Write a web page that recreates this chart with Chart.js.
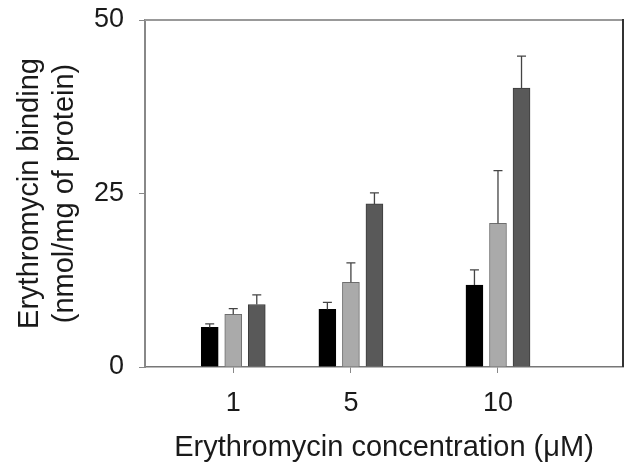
<!DOCTYPE html>
<html>
<head>
<meta charset="utf-8">
<script src="https://cdn.jsdelivr.net/npm/chart.js@4.4.1/dist/chart.umd.min.js"></script>
<style>
  body { margin: 0; background: #fff; }
  #chart { display: block; }
</style>
</head>
<body>
<canvas id="chart" width="633" height="470"></canvas>
<script>
// concentrations (uM) on the x axis
const concentrations = [1, 5, 10];
// three series
const blackValues = [5.7, 8.3, 11.8];
const blackErrors = [0.5, 1.0, 2.2];
const lightValues = [7.6, 12.2, 20.7];
const lightErrors = [0.8, 2.8, 7.6];
const darkValues = [9.0, 23.5, 40.2];
const darkErrors = [1.4, 1.6, 4.6];
const yTicks = [0, 25, 50];

const FONT = "'Liberation Sans', Arial, sans-serif";

function makeSeries(label, values, errors, offset, fill, border) {
  return {
    label: label,
    data: concentrations.map((c, i) => ({ x: c + offset, y: values[i], err: errors[i] })),
    backgroundColor: fill,
    borderColor: border,
    borderWidth: 1,
    borderSkipped: 'bottom',
    barThickness: 17,
    grouped: false
  };
}

// upward error bars, drawn through the y scale
const errorBars = {
  id: 'errorBars',
  afterDatasetsDraw(chart) {
    const ctx = chart.ctx;
    const y = chart.scales.y;
    ctx.save();
    ctx.strokeStyle = '#444';
    ctx.lineWidth = 1.3;
    chart.data.datasets.forEach((ds, di) => {
      const meta = chart.getDatasetMeta(di);
      meta.data.forEach((bar, i) => {
        const p = ds.data[i];
        const top = y.getPixelForValue(p.y + p.err);
        ctx.beginPath();
        ctx.moveTo(bar.x, bar.y);
        ctx.lineTo(bar.x, top);
        ctx.moveTo(bar.x - 4.5, top);
        ctx.lineTo(bar.x + 4.5, top);
        ctx.stroke();
      });
    });
    ctx.restore();
  }
};

// box around the plot area: light top edge, dark right edge
const frame = {
  id: 'frame',
  afterDraw(chart) {
    const a = chart.chartArea;
    const ctx = chart.ctx;
    ctx.save();
    ctx.lineWidth = 2;
    ctx.strokeStyle = '#999';
    ctx.beginPath();
    ctx.moveTo(a.left, a.top);
    ctx.lineTo(a.right, a.top);
    ctx.stroke();
    ctx.strokeStyle = '#333';
    ctx.beginPath();
    ctx.moveTo(a.right, a.top - 1);
    ctx.lineTo(a.right, a.bottom);
    ctx.stroke();
    ctx.restore();
  }
};

new Chart(document.getElementById('chart'), {
  type: 'bar',
  data: {
    datasets: [
      makeSeries('A', blackValues, blackErrors, -0.8, '#000000', '#000000'),
      makeSeries('B', lightValues, lightErrors, 0, '#aaaaaa', '#6e6e6e'),
      makeSeries('C', darkValues, darkErrors, 0.8, '#595959', '#3c3c3c')
    ]
  },
  options: {
    responsive: false,
    animation: false,
    devicePixelRatio: 1,
    layout: { padding: { top: 0, right: 10, left: 0, bottom: 0 } },
    plugins: {
      legend: { display: false },
      tooltip: { enabled: false }
    },
    scales: {
      x: {
        type: 'linear',
        min: -2,
        max: 14.25,
        offset: false,
        afterBuildTicks: s => { s.ticks = concentrations.map(v => ({ value: v })); },
        afterFit: s => { s.height = 103; },
        ticks: {
          color: '#1a1a1a',
          font: { family: FONT, size: 27 },
          padding: 14,
          maxRotation: 0,
          callback: v => String(v)
        },
        grid: { drawOnChartArea: false, offset: false, tickLength: 6, tickColor: '#888' },
        border: { color: '#777', width: 1.5 },
        title: {
          display: true,
          text: 'Erythromycin concentration (\u03bcM)',
          color: '#1a1a1a',
          font: { family: FONT, size: 29 },
          padding: { top: 0, bottom: 5 }
        }
      },
      y: {
        min: 0,
        max: 50,
        afterBuildTicks: s => { s.ticks = yTicks.map(v => ({ value: v })); },
        // fixed axis width; the tick padding would otherwise push the plot top down
        afterFit: s => { s.width = 145; s.paddingTop = 20; },
        ticks: {
          color: '#1a1a1a',
          font: { family: FONT, size: 27 },
          padding: 15
        },
        grid: { drawOnChartArea: false, tickLength: 6, tickColor: '#888' },
        border: { color: '#888', width: 2 },
        title: {
          display: true,
          text: ['Erythromycin binding', '(nmol/mg of protein)'],
          color: '#1a1a1a',
          font: { family: FONT, size: 29, lineHeight: 1.2 },
          padding: { top: 13, bottom: 0 }
        }
      }
    }
  },
  plugins: [errorBars, frame]
});
</script>
</body>
</html>
